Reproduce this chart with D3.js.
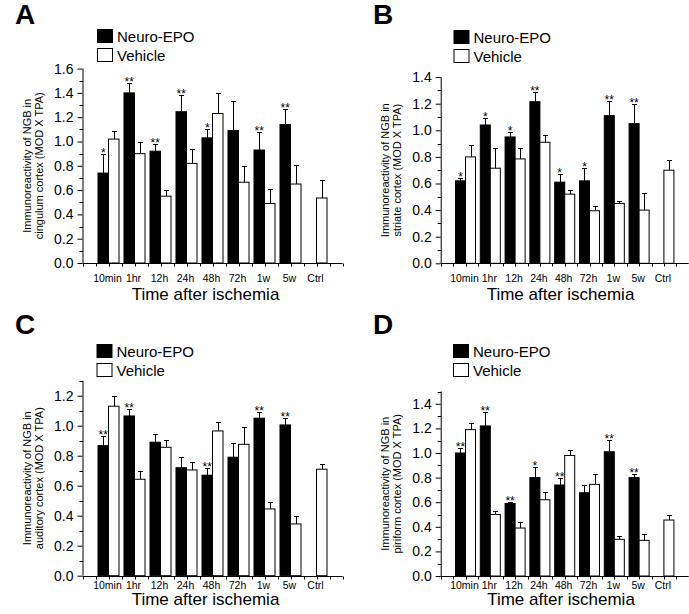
<!DOCTYPE html>
<html>
<head>
<meta charset="utf-8">
<script src="https://cdn.jsdelivr.net/npm/d3@7"></script>
<style>
  body { margin: 0; background: #fff; }
  svg { display: block; font-family: "Liberation Sans", Arial, sans-serif; }
</style>
</head>
<body>
<svg id="fig" width="689" height="614"></svg>
<script>
const categories = ["10min", "1hr", "12h", "24h", "48h", "72h", "1w", "5w", "Ctrl"];
const seriesNames = ["Neuro-EPO", "Vehicle"];

// A - cingulum cortex
const epoA = [0.74, 1.40, 0.92, 1.245, 1.03, 1.09, 0.93, 1.14, null];
const epoErrA = [0.16, 0.085, 0.06, 0.135, 0.07, 0.24, 0.15, 0.13, null];
const vehA = [1.02, 0.90, 0.55, 0.82, 1.23, 0.665, 0.49, 0.65, 0.535];
const vehErrA = [0.07, 0.095, 0.05, 0.12, 0.17, 0.135, 0.12, 0.16, 0.15];
const starsA = ["*", "**", "**", "**", "*", "", "**", "**", ""];
const ticksA = [0, 0.2, 0.4, 0.6, 0.8, 1.0, 1.2, 1.4, 1.6];

// B - striate cortex
const epoB = [0.62, 1.04, 0.95, 1.215, 0.61, 0.62, 1.11, 1.05, null];
const epoErrB = [0.02, 0.05, 0.035, 0.075, 0.06, 0.095, 0.11, 0.15, null];
const vehB = [0.80, 0.715, 0.785, 0.91, 0.52, 0.395, 0.45, 0.40, 0.70];
const vehErrB = [0.09, 0.155, 0.085, 0.055, 0.03, 0.035, 0.02, 0.13, 0.077];
const starsB = ["*", "*", "*", "**", "*", "*", "**", "**", ""];
const ticksB = [0, 0.2, 0.4, 0.6, 0.8, 1.0, 1.2, 1.4];

// C - auditory cortex
const epoC = [0.867, 1.065, 0.89, 0.72, 0.67, 0.79, 1.05, 1.005, null];
const epoErrC = [0.063, 0.045, 0.055, 0.07, 0.05, 0.097, 0.043, 0.045, null];
const vehC = [1.13, 0.643, 0.856, 0.705, 0.965, 0.876, 0.445, 0.345, 0.71];
const vehErrC = [0.065, 0.057, 0.049, 0.055, 0.062, 0.114, 0.045, 0.055, 0.035];
const starsC = ["**", "**", "", "", "**", "", "**", "**", ""];
const ticksC = [0, 0.2, 0.4, 0.6, 0.8, 1.0, 1.2];

// D - piriform cortex
const epoD = [1.0, 1.22, 0.59, 0.80, 0.74, 0.677, 1.01, 0.80, null];
const epoErrD = [0.04, 0.115, 0.01, 0.09, 0.06, 0.063, 0.095, 0.03, null];
const vehD = [1.19, 0.50, 0.39, 0.62, 0.98, 0.745, 0.298, 0.29, 0.455];
const vehErrD = [0.055, 0.03, 0.045, 0.06, 0.045, 0.085, 0.027, 0.055, 0.04];
const starsD = ["**", "**", "**", "*", "**", "", "**", "**", ""];
const ticksD = [0, 0.2, 0.4, 0.6, 0.8, 1.0, 1.2, 1.4];

const panels = [
  { letter: "A", region: "cingulum cortex (MOD X TPA)", epo: epoA, epoErr: epoErrA, veh: vehA, vehErr: vehErrA, stars: starsA, ticks: ticksA,
    yMax: 1.6, x0: 82.5, x1: 342.5, y0: 263, y1: 68.6, letterX: 15, letterY: 24, legX: 97, legY: 29, catY: 282, titleX: 205.5, titleY: 300 },
  { letter: "B", region: "striate cortex (MOD X TPA)", epo: epoB, epoErr: epoErrB, veh: vehB, vehErr: vehErrB, stars: starsB, ticks: ticksB,
    yMax: 1.4, x0: 440.7, x1: 688.7, y0: 263.3, y1: 77.1, letterX: 373, letterY: 24, legX: 453.5, legY: 30, catY: 282, titleX: 560.5, titleY: 300 },
  { letter: "C", region: "auditory cortex (MOD X TPA)", epo: epoC, epoErr: epoErrC, veh: vehC, vehErr: vehErrC, stars: starsC, ticks: ticksC,
    yMax: 1.3, x0: 82.5, x1: 342.5, y0: 575.7, y1: 380.7, letterX: 15, letterY: 334, legX: 96.5, legY: 344, catY: 588.5, titleX: 205.5, titleY: 605 },
  { letter: "D", region: "piriform cortex (MOD X TPA)", epo: epoD, epoErr: epoErrD, veh: vehD, vehErr: vehErrD, stars: starsD, ticks: ticksD,
    yMax: 1.5, x0: 440.7, x1: 688.7, y0: 576, y1: 391.5, letterX: 373, letterY: 334, legX: 453, legY: 344, catY: 588.5, titleX: 561, titleY: 605 }
];

const svg = d3.select("#fig");

panels.forEach(p => {
  const g = svg.append("g");

  const x = d3.scalePoint().domain(categories).range([p.x0, p.x1]).padding(1);
  const step = x.step();
  const bw = step * 0.404;
  const y = d3.scaleLinear().domain([0, p.yMax]).range([p.y0, p.y1]);

  // panel letter
  g.append("text")
    .attr("x", p.letterX).attr("y", p.letterY)
    .attr("font-size", 28).attr("font-weight", "bold")
    .text(p.letter);

  // legend
  const leg = g.append("g").attr("transform", `translate(${p.legX},${p.legY})`);
  seriesNames.forEach((name, i) => {
    leg.append("rect")
      .attr("x", 0.5).attr("y", i * 19 + 0.5)
      .attr("width", 15).attr("height", 13)
      .attr("fill", i === 0 ? "#000" : "#fff")
      .attr("stroke", "#000").attr("stroke-width", 1);
    leg.append("text")
      .attr("x", 20).attr("y", i * 19 + 13)
      .attr("font-size", 15)
      .text(name);
  });

  // y axis
  const yAxis = d3.axisLeft(y).tickValues(p.ticks).tickSize(5).tickPadding(4)
    .tickFormat(d3.format(".1f"));
  const ya = g.append("g").attr("transform", `translate(${p.x0},0)`).call(yAxis);
  ya.select(".domain").attr("d", `M0.5,${p.y0}V${p.y1}`).attr("stroke", "#000");
  ya.selectAll(".tick line").attr("stroke", "#000");
  ya.selectAll("text").attr("font-size", 14).attr("fill", "#000")
    .attr("font-family", "Liberation Sans, Arial, sans-serif");
  const minor = d3.range(0.1, p.yMax + 0.001, 0.2);
  g.append("g").attr("transform", `translate(${p.x0},0)`)
    .selectAll("line").data(minor).join("line")
    .attr("x1", -3).attr("x2", 0.5)
    .attr("y1", d => Math.round(y(d)) + 0.5).attr("y2", d => Math.round(y(d)) + 0.5)
    .attr("stroke", "#000");

  // y label
  const ly = (p.y0 + p.y1) / 2;
  g.append("text")
    .attr("transform", `translate(${p.x0 - 52},${ly}) rotate(-90)`)
    .attr("text-anchor", "middle").attr("font-size", 11)
    .text("Immunoreactivity of NGB in");
  g.append("text")
    .attr("transform", `translate(${p.x0 - 40},${ly}) rotate(-90)`)
    .attr("text-anchor", "middle").attr("font-size", 11)
    .text(p.region);

  // bars
  const rows = categories.map((c, i) => ({ cat: c, epo: p.epo[i], epoErr: p.epoErr[i], veh: p.veh[i], vehErr: p.vehErr[i], star: p.stars[i] }));
  const epoRows = rows.filter(d => d.epo !== null);

  // error bars (drawn first so bar covers the base)
  const errLines = [];
  epoRows.forEach(d => errLines.push({ cx: x(d.cat) - bw / 2, top: d.epo + d.epoErr, base: d.epo }));
  rows.forEach(d => errLines.push({ cx: x(d.cat) + bw / 2, top: d.veh + d.vehErr, base: d.veh }));
  g.append("g").selectAll("path").data(errLines).join("path")
    .attr("d", d => {
      const cx = Math.round(d.cx) + 0.5;
      const t = Math.round(y(d.top)) + 0.5;
      return `M${cx},${y(d.base)}V${t}M${cx - 2.5},${t}H${cx + 2.5}`;
    })
    .attr("stroke", "#000").attr("fill", "none").attr("stroke-width", 1);

  g.append("g").selectAll("rect").data(epoRows).join("rect")
    .attr("x", d => x(d.cat) - bw)
    .attr("y", d => y(d.epo))
    .attr("width", bw)
    .attr("height", d => p.y0 - y(d.epo))
    .attr("fill", "#000").attr("stroke", "#000").attr("stroke-width", 1);

  g.append("g").selectAll("rect").data(rows).join("rect")
    .attr("x", d => x(d.cat))
    .attr("y", d => y(d.veh))
    .attr("width", bw)
    .attr("height", d => p.y0 - y(d.veh))
    .attr("fill", "#fff").attr("stroke", "#000").attr("stroke-width", 1);

  // significance stars
  g.append("g").selectAll("text").data(epoRows.filter(d => d.star)).join("text")
    .attr("x", d => x(d.cat) - bw / 2)
    .attr("y", d => y(d.epo + d.epoErr) + 3)
    .attr("text-anchor", "middle").attr("font-size", 12)
    .text(d => d.star);

  // x axis with half-step ticks
  g.append("line")
    .attr("x1", p.x0).attr("x2", p.x1)
    .attr("y1", Math.round(p.y0) + 0.5).attr("y2", Math.round(p.y0) + 0.5)
    .attr("stroke", "#000");
  const halfTicks = d3.range(0, 21).map(k => p.x0 + k * step / 2);
  g.append("g").selectAll("line").data(halfTicks).join("line")
    .attr("x1", d => Math.round(d) + 0.5).attr("x2", d => Math.round(d) + 0.5)
    .attr("y1", Math.round(p.y0) + 0.5).attr("y2", Math.round(p.y0) + 3.5)
    .attr("stroke", "#000");

  g.append("g").selectAll("text").data(categories).join("text")
    .attr("x", d => x(d) - 1)
    .attr("y", p.catY)
    .attr("text-anchor", "middle").attr("font-size", 10.5)
    .text(d => d);

  g.append("text")
    .attr("x", p.titleX).attr("y", p.titleY)
    .attr("text-anchor", "middle").attr("font-size", 17)
    .text("Time after ischemia");
});
</script>
</body>
</html>
